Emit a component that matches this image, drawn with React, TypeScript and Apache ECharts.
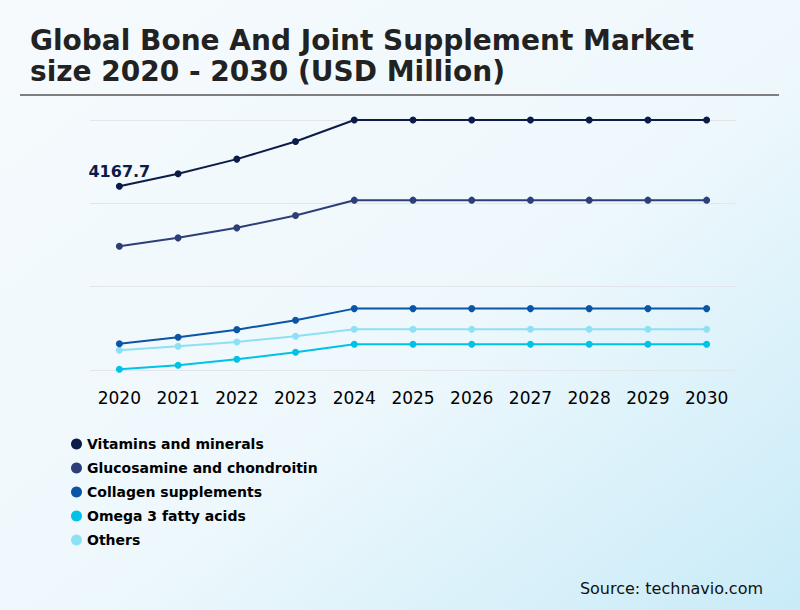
import { useEffect, useRef } from "react";
import * as echarts from "echarts";

const years = ["2020", "2021", "2022", "2023", "2024", "2025", "2026", "2027", "2028", "2029", "2030"];

const vitamins = [4167.7, 4449, 4783, 5183, 5669, 5669, 5669, 5669, 5669, 5669, 5669];
const glucosamine = [2808, 2997, 3224, 3503, 3852, 3852, 3852, 3852, 3852, 3852, 3852];
const collagen = [597, 742, 915, 1128, 1392, 1392, 1392, 1392, 1392, 1392, 1392];
const omega3 = [16, 107, 243, 402, 583, 583, 583, 583, 583, 583, 583];
const others = [447, 538, 636, 765, 924, 924, 924, 924, 924, 924, 924];

const seriesNames = [
  "Vitamins and minerals",
  "Glucosamine and chondroitin",
  "Collagen supplements",
  "Omega 3 fatty acids",
  "Others",
];
const seriesColors = ["#0c1c48", "#2d3f76", "#0a55a5", "#00c2e4", "#8ee0f3"];

const FONT = "DejaVu Sans";

export default function App() {
  const chartRef = useRef<HTMLDivElement>(null);

  useEffect(() => {
    if (!chartRef.current) return;
    const chart = echarts.init(chartRef.current, undefined, { renderer: "svg" });

    const values = [vitamins, glucosamine, collagen, omega3, others];

    const series = seriesNames.map((name, i) => ({
      name,
      type: "line",
      data: values[i].map((v, j) =>
        i === 0 && j === 0
          ? {
              value: v,
              label: {
                show: true,
                position: "top",
                distance: 3,
                fontSize: 16,
                fontWeight: "bold",
                fontFamily: FONT,
                color: "#0c1c48",
                formatter: "{c}",
              },
            }
          : v
      ),
      symbol: "circle",
      symbolSize: 7,
      lineStyle: { width: 2, color: seriesColors[i] },
      itemStyle: { color: seriesColors[i] },
      z: 10 - i,
    }));

    chart.setOption({
      animation: false,
      backgroundColor: {
        type: "linear",
        x: 0,
        y: 0,
        x2: 1,
        y2: 1,
        colorStops: [
          { offset: 0, color: "#f6fafd" },
          { offset: 0.55, color: "#eef8fc" },
          { offset: 1, color: "#c8ebf8" },
        ],
      },
      title: {
        text: "Global Bone And Joint Supplement Market\nsize 2020 - 2030 (USD Million)",
        left: 25,
        top: 20,
        textStyle: {
          fontFamily: FONT,
          fontSize: 28,
          fontWeight: "bold",
          color: "#222222",
          lineHeight: 31,
        },
      },
      graphic: [
        {
          type: "line",
          shape: { x1: 20, y1: 95, x2: 779, y2: 95 },
          style: { stroke: "#7f7f7f", lineWidth: 2 },
        },
        {
          type: "text",
          right: 37,
          top: 580,
          style: {
            text: "Source: technavio.com",
            fontFamily: FONT,
            fontSize: 16,
            fill: "#111111",
          },
        },
      ],
      legend: {
        orient: "vertical",
        left: 66,
        top: 432,
        itemGap: 10,
        itemWidth: 11,
        itemHeight: 11,
        itemTextGap: 6,
        icon: "circle",
        data: seriesNames,
        textStyle: {
          fontFamily: FONT,
          fontSize: 14,
          fontWeight: "bold",
          color: "#000000",
        },
      },
      grid: { left: 90, right: 64, top: 120, bottom: 240 },
      xAxis: {
        type: "category",
        data: years,
        boundaryGap: true,
        axisLine: { show: false },
        axisTick: { show: false },
        axisLabel: {
          fontFamily: FONT,
          fontSize: 17,
          color: "#000000",
          margin: 19,
          interval: 0,
        },
      },
      yAxis: {
        type: "value",
        min: 0,
        max: 5670,
        interval: 1890,
        axisLabel: { show: false },
        axisLine: { show: false },
        axisTick: { show: false },
        splitLine: { lineStyle: { color: "#e2e6ea", width: 1 } },
      },
      series,
    });

    return () => {
      chart.dispose();
    };
  }, []);

  return (
    <div
      ref={chartRef}
      style={{ position: "absolute", left: 0, top: 0, width: 800, height: 610 }}
    />
  );
}
